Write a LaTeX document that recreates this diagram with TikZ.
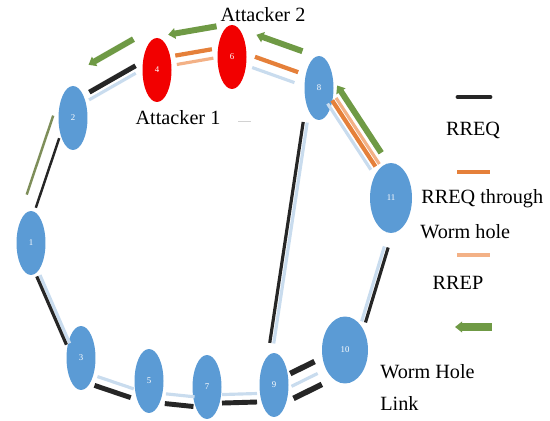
\documentclass[tikz,border=0pt]{standalone}
\usepackage{fontspec}
\setmainfont{Liberation Serif}
\usetikzlibrary{shapes.geometric,arrows.meta}

\definecolor{nodeblue}{HTML}{5B9BD5}
\definecolor{attackred}{HTML}{F20000}
\definecolor{linkblue}{HTML}{C9DCEE}
\definecolor{reqorange}{HTML}{E5803A}
\definecolor{repsalmon}{HTML}{F3B186}
\definecolor{wormgreen}{HTML}{6F9A45}
\definecolor{olivegreen}{HTML}{7E8E5A}

\tikzset{
  mote/.style={ellipse, fill=nodeblue, text=white, font=\tiny, inner sep=0pt,
    minimum width=0.58cm, minimum height=1.28cm},
  attacker/.style={mote, fill=attackred},
  link/.style={draw=linkblue, line width=1.8pt},
  rreq/.style={draw=black!85, line width=2.8pt},
  tunnel/.style={draw=reqorange, line width=2.4pt},
  rrep/.style={draw=repsalmon, line width=1.8pt},
  oldrep/.style={draw=olivegreen, line width=1.4pt},
  wormhole/.style={draw=wormgreen, line width=3.4pt,
    arrows={Triangle[length=4pt,width=6pt]-}},
  nudge/.style={transform canvas={shift={#1}}},
  trim/.style 2 args={shorten <=#1, shorten >=#2},
  lbl/.style={font=\fontsize{11.5}{13}\selectfont, inner sep=0pt},
}

\begin{document}
\begin{tikzpicture}[x=0.02cm, y=-0.02cm]
	\useasboundingbox (0,0) rectangle (550,421);
	% Nodes of the route:
	\node[mote] (N1) at (31,243) {1};
	\node[mote] (N2) at (73,118) {2};
	\node[attacker] (N4) at (157,70) {4};
	\node[attacker] (N6) at (232,57) {6};
	\node[mote] (N8) at (319,88) {8};
	\node[mote, minimum width=0.84cm, minimum height=1.4cm] (N11) at (391,198) {11};
	\node[mote, minimum width=0.92cm, minimum height=1.34cm] (N10) at (345,350) {10};
	\node[mote] (N9) at (274,385) {9};
	\node[mote] (N7) at (207,387) {7};
	\node[mote] (N5) at (149,381) {5};
	\node[mote] (N3) at (81,358) {3};
	\node[lbl] (att1) at (178,118) {Attacker 1};
	\node[lbl] (att2) at (263,15) {Attacker 2};
	\draw[gray!35, line width=0.5pt] (238,121) -- (251,121);
	% Upper path through the worm hole:
	\draw[link, nudge={(-3.9,-6.7)}, trim={0.46cm}{0.4cm}] (N2.center) -- (N4.center);
	\draw[rreq, nudge={(-7.1,-12.4)}, trim={0.54cm}{0.33cm}] (N2.center) -- (N4.center);
	\draw[wormhole, nudge={(-19.2,-33.3)}, trim={0.8cm}{0.1cm}] (N2.center) -- (N4.center);
	\draw[tunnel, nudge={(-1.9,-10.9)}, trim={0.41cm}{0.37cm}] (N4.center) -- (N6.center);
	\draw[rrep, nudge={(-0.4,-2)}, trim={0.41cm}{0.37cm}] (N4.center) -- (N6.center);
	\draw[wormhole, nudge={(-5.6,-32.4)}, trim={0.34cm}{0.2cm}] (N4.center) -- (N6.center);
	\draw[link, nudge={(-1,3)}, trim={0.45cm}{0.5cm}] (N6.center) -- (N8.center);
	\draw[tunnel, nudge={(2.7,-7.4)}, trim={0.43cm}{0.5cm}] (N6.center) -- (N8.center);
	\draw[wormhole, nudge={(9.8,-27.4)}, trim={0.31cm}{0.56cm}] (N6.center) -- (N8.center);
	\draw[link, nudge={(-1,1)}, trim={0.35cm}{0.7cm}] (N8.center) -- (N11.center);
	\draw[tunnel, nudge={(3.6,-2.2)}, trim={0.35cm}{0.7cm}] (N8.center) -- (N11.center);
	\draw[rrep, nudge={(7.5,-4.7)}, trim={0.35cm}{0.7cm}] (N8.center) -- (N11.center);
	\draw[wormhole, nudge={(14,-8.8)}, trim={0.15cm}{0.87cm}] (N8.center) -- (N11.center);
	% Lower path:
	\draw[oldrep, nudge={(-18.5,-6.2)}, trim={0.08cm}{0.89cm}] (N2.center) -- (N1.center);
	\draw[rreq, line width=1.4pt, nudge={(-6.3,-2.1)}, trim={0.47cm}{0.7cm}] (N2.center) -- (N1.center);
	\draw[link, nudge={(-4.2,1.8)}, trim={0.66cm}{0.36cm}] (N1.center) -- (N3.center);
	\draw[rreq, line width=1.8pt, nudge={(-7.4,3.2)}, trim={0.66cm}{0.36cm}] (N1.center) -- (N3.center);
	\draw[link, nudge={(-3.9,11.7)}, trim={0.43cm}{0.24cm}] (N3.center) -- (N5.center);
	\draw[rreq, nudge={(-6.9,20.5)}, trim={0.43cm}{0.24cm}] (N3.center) -- (N5.center);
	\draw[link, nudge={(-1,11)}, trim={0.36cm}{0.23cm}] (N5.center) -- (N7.center);
	\draw[rreq, nudge={(-2.1,20.7)}, trim={0.36cm}{0.23cm}] (N5.center) -- (N7.center);
	\draw[link, nudge={(0,8)}, trim={0.3cm}{0.34cm}] (N7.center) -- (N9.center);
	\draw[rreq, nudge={(0,16.5)}, trim={0.3cm}{0.34cm}] (N7.center) -- (N9.center);
	\draw[link, nudge={(4,8)}, trim={0.3cm}{0.7cm}] (N9.center) -- (N10.center);
	\draw[rreq, line width=3.2pt, nudge={(-1.3,-2.8)}, trim={0.39cm}{0.65cm}] (N9.center) -- (N10.center);
	\draw[rreq, line width=3.2pt, nudge={(9.15,18.5)}, trim={0.23cm}{0.72cm}] (N9.center) -- (N10.center);
	\draw[link, nudge={(7.4,2)}, trim={0.64cm}{0.97cm}] (N10.center) -- (N11.center);
	\draw[rreq, line width=1.8pt, nudge={(11.2,3.1)}, trim={0.64cm}{0.97cm}] (N10.center) -- (N11.center);
	\draw[link, nudge={(-6.4,-1)}, trim={0.82cm}{0.72cm}] (N9.center) -- (N8.center);
	\draw[rreq, line width=1.8pt, nudge={(-10.4,-1.6)}, trim={0.82cm}{0.72cm}] (N9.center) -- (N8.center);
	% Legend:
	\draw[rreq, line cap=round] (458,97) -- (490,97);
	\node[lbl] (k1) at (473,130) {RREQ};
	\draw[tunnel] (457,172) -- (490,172);
	\node[lbl, anchor=west] (k2) at (421,199) {RREQ through};
	\node[lbl, anchor=west] (k2b) at (420,232) {Worm hole};
	\draw[rrep] (457,255) -- (490,255);
	\node[lbl] (k3) at (458,283) {RREP};
	\draw[wormhole, line width=4pt] (455,327) -- (492,327);
	\node[lbl, anchor=west] (k4) at (380,372) {Worm Hole};
	\node[lbl, anchor=west] (k4b) at (380,403) {Link};
\end{tikzpicture}
\end{document}
